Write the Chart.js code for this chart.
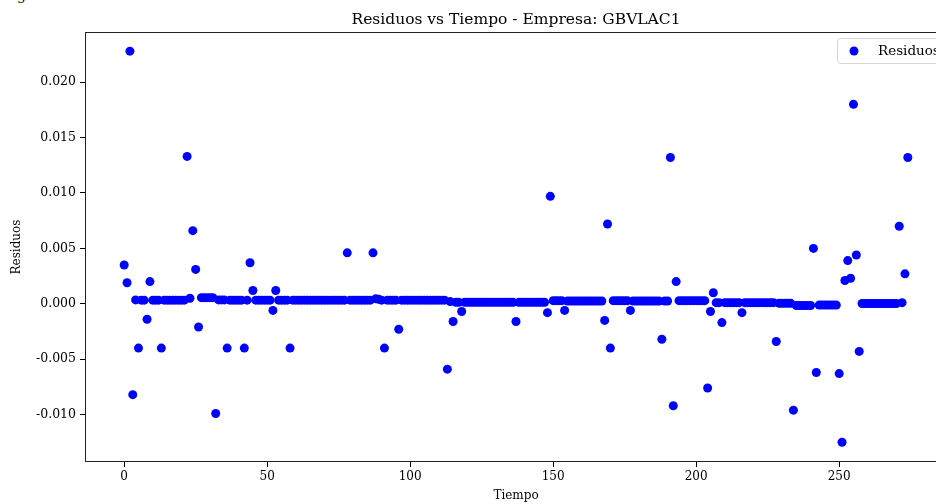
<!DOCTYPE html>
<html>
<head>
<meta charset="utf-8">
<script src="https://cdn.jsdelivr.net/npm/chart.js@4.4.1/dist/chart.umd.min.js"></script>
<style>
    html, body { margin: 0; padding: 0; background: #fff; overflow: hidden; }
    #wrap { position: relative; width: 936px; height: 504px; overflow: hidden; }
    #mainChart { position: absolute; left: 0; top: 0; }
    #cut { position: absolute; left: 17px; top: -13px; font: 14px "DejaVu Serif", serif; color: #000; }
</style>
</head>
<body>
<div id="wrap">
    <span id="cut">g</span>
    <canvas id="mainChart" width="960" height="504"></canvas>
</div>
<script>
// Residuals per time step (index = Tiempo)
const residuos = [
    0.0035, 0.0019, 0.0228, -0.0082, 0.00035, -0.0040, 0.00033, 0.00033, -0.0014, 0.0020,
    0.00033, 0.00033, 0.00033, -0.0040, 0.00033, 0.00033, 0.00033, 0.00033, 0.00033, 0.00033,
    0.00033, 0.00033, 0.0133, 0.0005, 0.0066, 0.0031, -0.0021, 0.00055, 0.00055, 0.00055,
    0.00055, 0.00055, -0.0099, 0.00035, 0.00035, 0.00035, -0.0040, 0.00033, 0.00033, 0.00033,
    0.00033, 0.00033, -0.0040, 0.00033, 0.0037, 0.0012, 0.00033, 0.00033, 0.00033, 0.00033,
    0.00033, 0.00033, -0.0006, 0.0012, 0.00033, 0.00033, 0.00033, 0.00033, -0.0040, 0.00033,
    0.00033, 0.00033, 0.00033, 0.00033, 0.00033, 0.00033, 0.00033, 0.00033, 0.00033, 0.00033,
    0.00033, 0.00033, 0.00033, 0.00033, 0.00033, 0.00033, 0.00033, 0.00033, 0.0046, 0.00033,
    0.00033, 0.00033, 0.00033, 0.00033, 0.00033, 0.00033, 0.00033, 0.0046, 0.00045, 0.0004,
    0.00033, -0.0040, 0.00033, 0.00033, 0.00033, 0.00033, -0.0023, 0.00033, 0.00033, 0.00033,
    0.00033, 0.00033, 0.00033, 0.00033, 0.00033, 0.00033, 0.00033, 0.00033, 0.00033, 0.00033,
    0.00033, 0.00033, 0.00033, -0.0059, 0.0002, -0.0016, 0.00013, 0.00013, -0.0007, 0.00013,
    0.00013, 0.00013, 0.00013, 0.00013, 0.00013, 0.00013, 0.00013, 0.00013, 0.00013, 0.00013,
    0.00013, 0.00013, 0.00013, 0.00013, 0.00013, 0.00013, 0.00013, -0.0016, 0.00013, 0.00013,
    0.00013, 0.00013, 0.00013, 0.00013, 0.00013, 0.00013, 0.00013, 0.00013, -0.0008, 0.0097,
    0.00028, 0.00028, 0.00028, 0.00028, -0.0006, 0.00025, 0.00025, 0.00025, 0.00025, 0.00025,
    0.00025, 0.00025, 0.00025, 0.00025, 0.00025, 0.00025, 0.00025, 0.00025, -0.0015, 0.0072,
    -0.0040, 0.00028, 0.00028, 0.00028, 0.00028, 0.00028, 0.00028, -0.0006, 0.00025, 0.00025,
    0.00025, 0.00025, 0.00025, 0.00025, 0.00025, 0.00025, 0.00025, 0.00025, -0.0032, 0.00025,
    0.00025, 0.0132, -0.0092, 0.0020, 0.00028, 0.00028, 0.00028, 0.00028, 0.00028, 0.00028,
    0.00028, 0.00028, 0.00028, 0.00028, -0.0076, -0.0007, 0.0010, 0.0001, 0.0001, -0.0017,
    0.0001, 0.0001, 0.0001, 0.0001, 0.0001, 0.0001, -0.0008, 0.0001, 0.0001, 0.0001,
    0.0001, 0.0001, 0.0001, 0.0001, 0.0001, 0.0001, 0.0001, 0.0001, -0.0034, 0.00005,
    0.00005, 0.00005, 0.00005, 0.00005, -0.0096, -0.00015, -0.00015, -0.00015, -0.00015, -0.00015,
    -0.00015, 0.0050, -0.0062, -0.00012, -0.00012, -0.00012, -0.00012, -0.00012, -0.00012, -0.00012,
    -0.0063, -0.0125, 0.0021, 0.0039, 0.0023, 0.0180, 0.0044, -0.0043, 0.00003, 0.00003,
    0.00003, 0.00003, 0.00003, 0.00003, 0.00003, 0.00003, 0.00003, 0.00003, 0.00003, 0.00003,
    0.00003, 0.0070, 0.0001, 0.0027, 0.0132
];

const xTicks = [0, 50, 100, 150, 200, 250];
const yTicks = [-0.010, -0.005, 0.000, 0.005, 0.010, 0.015, 0.020];

const titleText = 'Residuos vs Tiempo - Empresa: GBVLAC1';
const xLabel = 'Tiempo';
const yLabel = 'Residuos';
const legendLabel = 'Residuos';

const FONT = '"DejaVu Serif", serif';

// draws title, axis labels, frame and the boxed legend (matplotlib style)
const frameAndText = {
    id: 'frameAndText',
    afterDraw(chart) {
        const ctx = chart.ctx;
        const a = chart.chartArea;
        const cx = (a.left + a.right) / 2;
        ctx.save();

        ctx.strokeStyle = '#222';
        ctx.lineWidth = 1;
        ctx.strokeRect(a.left + 0.5, a.top + 0.5, a.right - a.left - 1, a.bottom - a.top - 1);

        ctx.fillStyle = '#000';
        ctx.font = '15.5px ' + FONT;
        ctx.textAlign = 'center';
        ctx.textBaseline = 'alphabetic';
        ctx.fillText(titleText, cx, 24);

        ctx.font = '12px ' + FONT;
        ctx.fillText(xLabel, cx, 499);

        ctx.translate(20, (a.top + a.bottom) / 2);
        ctx.rotate(-Math.PI / 2);
        ctx.fillText(yLabel, 0, 0);
        ctx.restore();

        // legend box
        ctx.save();
        const bx = 837, by = 38, bw = 103, bh = 25;
        ctx.beginPath();
        ctx.roundRect(bx + 0.5, by + 0.5, bw, bh, 3);
        ctx.fillStyle = 'rgba(255,255,255,0.8)';
        ctx.fill();
        ctx.strokeStyle = '#d5d5d5';
        ctx.lineWidth = 1;
        ctx.stroke();
        ctx.fillStyle = '#0000ff';
        ctx.beginPath();
        ctx.arc(854, 51, 4.5, 0, Math.PI * 2);
        ctx.fill();
        ctx.fillStyle = '#000';
        ctx.font = '13.5px ' + FONT;
        ctx.textAlign = 'left';
        ctx.textBaseline = 'middle';
        ctx.fillText(legendLabel, 878, 51);
        ctx.restore();
    }
};

const ctx = document.getElementById('mainChart');
new Chart(ctx, {
    type: 'scatter',
    data: {
        datasets: [{
            label: legendLabel,
            data: residuos.map((v, i) => ({ x: i, y: v })),
            backgroundColor: '#0000ff',
            borderWidth: 0,
            pointRadius: 4.5,
            pointHoverRadius: 4.5
        }]
    },
    options: {
        responsive: false,
        animation: false,
        devicePixelRatio: 1,
        layout: { padding: { top: 32, right: 13, left: 0, bottom: 0 } },
        plugins: {
            legend: { display: false },
            title: { display: false },
            tooltip: { enabled: false }
        },
        scales: {
            x: {
                type: 'linear',
                min: -13.7,
                max: 287.7,
                afterFit: s => { s.height = 42; },
                afterBuildTicks: s => { s.ticks = xTicks.map(v => ({ value: v })); },
                grid: { drawOnChartArea: false, tickLength: 5, color: '#000', tickWidth: 1 },
                border: { display: false },
                ticks: {
                    color: '#000',
                    padding: 3,
                    maxRotation: 0,
                    font: { family: FONT, size: 12 },
                    callback: v => String(v)
                }
            },
            y: {
                type: 'linear',
                min: -0.01428,
                max: 0.02453,
                afterFit: s => { s.width = 85; },
                afterBuildTicks: s => { s.ticks = yTicks.map(v => ({ value: v })); },
                grid: { drawOnChartArea: false, tickLength: 5, color: '#000', tickWidth: 1 },
                border: { display: false },
                ticks: {
                    color: '#000',
                    padding: 4,
                    font: { family: FONT, size: 12.5 },
                    callback: v => v.toFixed(3)
                }
            }
        }
    },
    plugins: [frameAndText]
});
</script>
</body>
</html>
